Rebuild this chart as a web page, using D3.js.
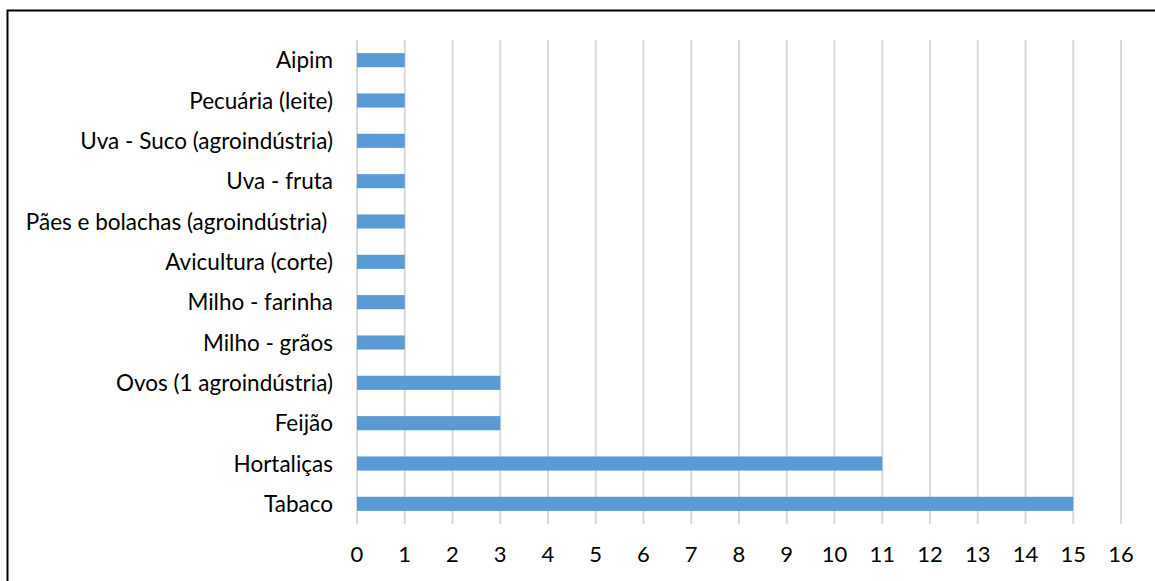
<!DOCTYPE html>
<html>
<head>
<meta charset="utf-8">
<script src="https://cdn.jsdelivr.net/npm/d3@7"></script>
<style>
  body { margin: 0; background: #fff; }
  svg { display: block; }
  text { font-family: Lato, "Open Sans", sans-serif; fill: #000; white-space: pre; }
</style>
</head>
<body>
<div id="chart"></div>
<script>
const categories = [
  'Aipim',
  'Pecuária (leite)',
  'Uva - Suco (agroindústria)',
  'Uva - fruta',
  'Pães e bolachas (agroindústria) ',
  'Avicultura (corte)',
  'Milho - farinha',
  'Milho - grãos',
  'Ovos (1 agroindústria)',
  'Feijão',
  'Hortaliças',
  'Tabaco'
];
const values = [1, 1, 1, 1, 1, 1, 1, 1, 3, 3, 11, 15];
const xTicks = d3.range(0, 17);

const width = 1155, height = 581;
const plot = { left: 357, right: 1121, top: 40, bottom: 524 };

const svg = d3.select('#chart')
  .append('svg')
  .attr('width', width)
  .attr('height', height);

// chart frame (only top and left edges are visible in the crop)
svg.append('rect')
  .attr('x', 7.5)
  .attr('y', 10.5)
  .attr('width', width + 10)
  .attr('height', height + 10)
  .attr('fill', 'none')
  .attr('stroke', '#000')
  .attr('stroke-width', 2);

const x = d3.scaleLinear()
  .domain([0, 16])
  .range([plot.left, plot.right]);

const y = d3.scaleBand()
  .domain(categories)
  .range([plot.top, plot.bottom])
  .paddingInner(0.65)
  .paddingOuter(0.325);

// vertical gridlines
svg.append('g')
  .selectAll('line')
  .data(xTicks)
  .enter()
  .append('line')
    .attr('x1', d => x(d))
    .attr('x2', d => x(d))
    .attr('y1', plot.top)
    .attr('y2', plot.bottom)
    .attr('stroke', '#d9d9d9')
    .attr('stroke-width', 2);

// bars
svg.append('g')
  .selectAll('rect')
  .data(values)
  .enter()
  .append('rect')
    .attr('x', x(0))
    .attr('y', (d, i) => y(categories[i]))
    .attr('width', d => x(d) - x(0))
    .attr('height', y.bandwidth())
    .attr('fill', '#5b9bd5');

// category labels
svg.append('g')
  .selectAll('text')
  .data(categories)
  .enter()
  .append('text')
    .attr('x', 333)
    .attr('y', d => y(d) + y.bandwidth() / 2)
    .attr('dy', '0.36em')
    .attr('text-anchor', 'end')
    .style('font-size', '22.5px')
    .text(d => d);

// tick labels
svg.append('g')
  .selectAll('text')
  .data(xTicks)
  .enter()
  .append('text')
    .attr('x', d => x(d))
    .attr('y', 562)
    .attr('text-anchor', 'middle')
    .style('font-size', '22px')
    .text(d => d);
</script>
</body>
</html>
